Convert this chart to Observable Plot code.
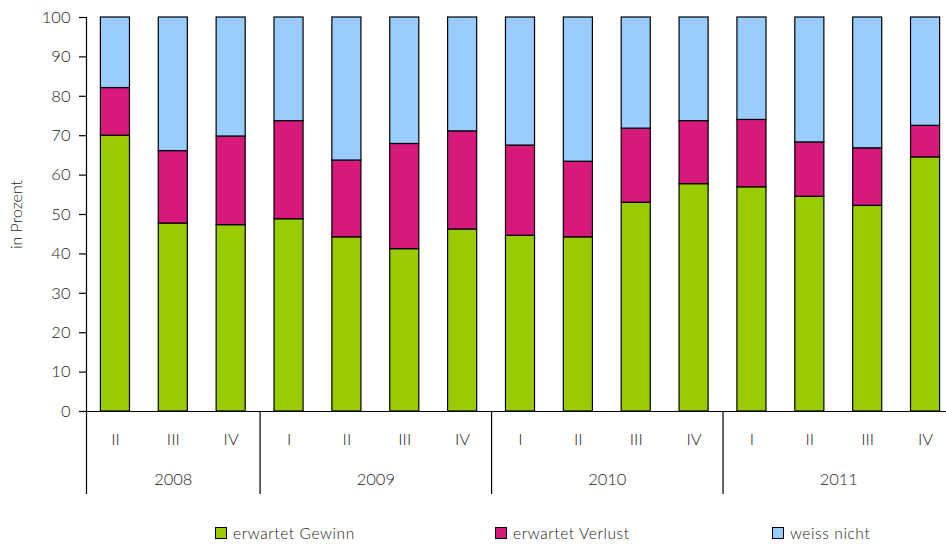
<!DOCTYPE html>
<html>
<head>
<meta charset="utf-8">
<script src="https://cdn.jsdelivr.net/npm/d3@7"></script>
<script src="https://cdn.jsdelivr.net/npm/@observablehq/plot@0.6"></script>
<style>
  html, body { margin: 0; padding: 0; background: #fff; overflow: hidden; }
  #wrap { position: relative; width: 946px; height: 546px; font-family: Lato, "Open Sans", sans-serif; font-weight: 300; color: #222; }
  #chart svg { display: block; overflow: hidden; }
  #chart svg text { font-weight: 300; }
  .legend { position: absolute; top: 523px; left: 0; width: 946px; height: 20px; font-size: 15.5px; letter-spacing: 0.6px; }
  .legend .item { position: absolute; top: 0; display: flex; align-items: center; height: 20px; white-space: nowrap; }
  .legend .sw { width: 10px; height: 10px; border: 1px solid #000; margin-right: 6px; }
</style>
</head>
<body>
<div id="wrap">
  <div id="chart"></div>
  <div class="legend" id="legend"></div>
</div>
<script>
// Quarterly survey: share of respondents expecting a gain, a loss, or undecided (in %)
const quarters = ["II", "III", "IV", "I", "II", "III", "IV", "I", "II", "III", "IV", "I", "II", "III", "IV"];
const years = ["2008", "2009", "2010", "2011"];
const yearStart = [0, 3, 7, 11];          // index of the first quarter of each year
const yearEnd = [3, 7, 11, 15];

const gewinn  = [70.0, 47.7, 47.3, 48.8, 44.2, 41.2, 46.2, 44.6, 44.2, 53.0, 57.7, 56.9, 54.5, 52.2, 64.5];
const verlust = [12.1, 18.4, 22.5, 24.9, 19.5, 26.7, 24.9, 22.9, 19.2, 18.8, 16.0, 17.1, 13.8, 14.6, 8.0];
const weissNicht = gewinn.map((g, i) => +(100 - g - verlust[i]).toFixed(1));

const seriesNames = ["erwartet Gewinn", "erwartet Verlust", "weiss nicht"];
const seriesColors = ["#99CC00", "#D6197A", "#99CCFF"];
const seriesValues = [gewinn, verlust, weissNicht];

// stacked segments, one row per quarter and series
const rows = [];
quarters.forEach((q, i) => {
  let base = 0;
  seriesValues.forEach((vals, s) => {
    rows.push({i, series: seriesNames[s], y1: base, y2: base + vals[i]});
    base += vals[i];
  });
});

const quarterTicks = quarters.map((q, i) => i + 0.5);
const yearTicks = years.map((y, k) => (yearStart[k] + yearEnd[k]) / 2);

const W = 946, H = 510;
const chart = Plot.plot({
  width: W,
  height: H,
  marginLeft: 86,
  marginRight: -8,
  marginTop: 17,
  marginBottom: 99,
  style: {fontFamily: "Lato, 'Open Sans', sans-serif", fontSize: "16px", color: "#222", background: "#fff"},
  x: {type: "linear", domain: [0, quarters.length]},
  y: {domain: [0, 100]},
  color: {domain: seriesNames, range: seriesColors},
  marks: [
    Plot.rectY(rows, {
      x1: "i", x2: d => d.i + 1, y1: "y1", y2: "y2",
      fill: "series", stroke: "#000", strokeWidth: 1.2,
      insetLeft: 14.4, insetRight: 14.4
    }),
    // y axis
    Plot.axisY({
      ticks: d3.range(0, 101, 10), tickSize: 7, tickPadding: 9,
      label: null, stroke: "#000", strokeWidth: 1.2, fill: "#222",
      fontSize: 16.5, style: {letterSpacing: "1.5px"}
    }),
    Plot.ruleX([0], {y1: 0, y2: 100, stroke: "#000", strokeWidth: 1.2}),
    Plot.ruleY([0], {stroke: "#000", strokeWidth: 1.2}),
    // year separators running below the baseline
    Plot.axisX({
      ticks: yearStart, tickSize: 83, tickFormat: () => "",
      stroke: "#000", strokeWidth: 1.2, anchor: "bottom", label: null
    }),
    // quarter labels
    Plot.axisX({
      ticks: quarterTicks, tickSize: 0, tickPadding: 22,
      tickFormat: (d) => quarters[Math.round(d - 0.5)],
      anchor: "bottom", label: null, fill: "#222", fontSize: 16.5,
      style: {letterSpacing: "1.5px"}
    }),
    // year labels
    Plot.axisX({
      ticks: yearTicks, tickSize: 0, tickPadding: 62,
      tickFormat: (d) => years[yearTicks.indexOf(d)],
      anchor: "bottom", label: null, fill: "#222", fontSize: 16.5,
      style: {letterSpacing: "1.5px"}
    }),
    Plot.text(["in Prozent"], {
      frameAnchor: "left", dx: -70, rotate: -90, textAnchor: "middle",
      fill: "#222", fontSize: 16, style: {letterSpacing: "0.6px"}
    })
  ]
});
document.getElementById("chart").append(chart);

// legend below the plot
const legendLeft = [215, 495, 772];
const legend = document.getElementById("legend");
seriesNames.forEach((name, s) => {
  const item = document.createElement("div");
  item.className = "item";
  item.style.left = legendLeft[s] + "px";
  const sw = document.createElement("span");
  sw.className = "sw";
  sw.style.background = seriesColors[s];
  item.append(sw, document.createTextNode(name));
  legend.append(item);
});
</script>
</body>
</html>
